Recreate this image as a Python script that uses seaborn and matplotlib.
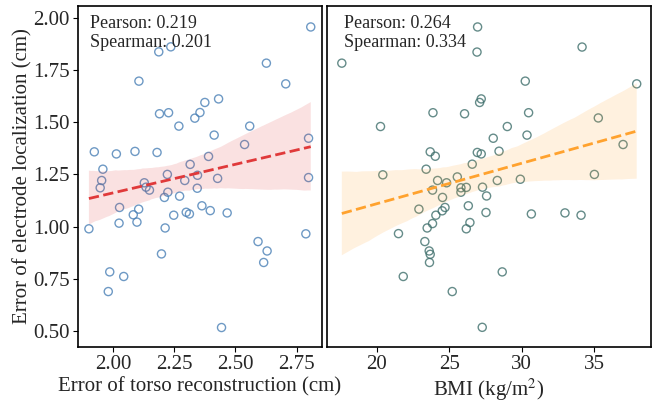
import matplotlib
matplotlib.use("Agg")
import matplotlib.pyplot as plt
import seaborn as sns
import numpy as np
import pandas as pd

# ---- data ----
torso_err = [2.807, 2.187, 2.236, 2.626, 2.106, 2.705, 2.431, 2.375, 2.190, 2.227,
             2.355, 2.334, 2.269, 2.558, 2.413, 2.798, 2.537, 1.924, 2.014, 2.090,
             2.180, 2.390, 2.315, 1.959, 2.222, 2.345, 2.427, 2.798, 1.954, 2.128,
             2.293, 1.948, 2.135, 2.149, 2.224, 2.344, 2.210, 2.272, 2.027, 2.083,
             2.105, 2.248, 2.299, 2.312, 2.363, 2.397, 2.466, 2.025, 2.098, 1.902,
             2.213, 2.787, 2.592, 2.629, 2.198, 2.615, 1.987, 2.044, 1.981, 2.443]
loc_err_torso = [1.955, 1.836, 1.860, 1.782, 1.696, 1.683, 1.611, 1.594, 1.540, 1.545,
                 1.546, 1.519, 1.481, 1.481, 1.438, 1.423, 1.393, 1.358, 1.348, 1.360,
                 1.355, 1.336, 1.298, 1.275, 1.250, 1.246, 1.231, 1.235, 1.221, 1.210,
                 1.221, 1.186, 1.189, 1.175, 1.165, 1.184, 1.140, 1.146, 1.092, 1.057,
                 1.084, 1.055, 1.069, 1.061, 1.100, 1.077, 1.066, 1.017, 1.022, 0.990,
                 0.994, 0.966, 0.929, 0.884, 0.870, 0.829, 0.784, 0.762, 0.690, 0.518]

bmi = [26.95, 26.91, 17.58, 34.16, 30.24, 37.93, 27.20, 27.09, 23.87, 26.05,
       30.47, 35.28, 20.25, 29.00, 30.36, 28.03, 36.99, 23.68, 24.03, 26.93,
       27.20, 28.43, 26.58, 23.40, 20.41, 25.55, 35.01, 28.31, 29.90, 24.19,
       24.81, 23.84, 25.80, 26.17, 25.80, 27.29, 24.53, 27.57, 22.90, 24.70,
       24.51, 24.07, 26.31, 27.53, 30.66, 32.98, 34.09, 26.42, 26.17, 23.84,
       23.47, 21.49, 23.31, 23.61, 23.68, 23.63, 28.65, 21.82, 25.20, 27.27]
loc_err_bmi = [1.955, 1.835, 1.782, 1.859, 1.696, 1.683, 1.611, 1.594, 1.545, 1.540,
               1.545, 1.520, 1.479, 1.479, 1.438, 1.423, 1.393, 1.358, 1.337, 1.355,
               1.348, 1.361, 1.299, 1.275, 1.248, 1.238, 1.250, 1.221, 1.227, 1.221,
               1.210, 1.175, 1.186, 1.188, 1.165, 1.189, 1.140, 1.147, 1.084, 1.092,
               1.076, 1.055, 1.100, 1.068, 1.061, 1.066, 1.055, 1.020, 0.990, 1.015,
               0.994, 0.967, 0.929, 0.884, 0.868, 0.829, 0.784, 0.762, 0.690, 0.519]

stats_left = ["Pearson: 0.219", "Spearman: 0.201"]
stats_right = ["Pearson: 0.264", "Spearman: 0.334"]
xticks_left = [2.00, 2.25, 2.50, 2.75]
xticks_right = [20, 25, 30, 35]
yticks = [0.50, 0.75, 1.00, 1.25, 1.50, 1.75, 2.00]

sns.set_theme(style="ticks")
plt.rcParams["font.family"] = ["Liberation Serif", "DejaVu Serif"]
plt.rcParams["mathtext.fontset"] = "stix"

df_l = pd.DataFrame({"x": torso_err, "y": loc_err_torso})
df_r = pd.DataFrame({"x": bmi, "y": loc_err_bmi})

fig, (ax1, ax2) = plt.subplots(1, 2, figsize=(6.6, 4.03), dpi=100, sharey=True,
                               gridspec_kw={"width_ratios": [244, 324]})
fig.subplots_adjust(left=0.118, right=0.986, top=0.985, bottom=0.139, wspace=0.018)

sns.regplot(data=df_l, x="x", y="y", ax=ax1, seed=0,
            scatter_kws=dict(s=34, facecolors="none", edgecolors="#4a80b6", linewidths=1.0),
            line_kws=dict(color="#e0393a", linestyle="--", linewidth=2.0),
            color="#e0393a")
sns.regplot(data=df_r, x="x", y="y", ax=ax2, seed=0,
            scatter_kws=dict(s=34, facecolors="none", edgecolors="#3f6f6c", linewidths=1.0),
            line_kws=dict(color="#ffa22e", linestyle="--", linewidth=2.0),
            color="#ffa22e")

# band colors/alpha
for ax, c in ((ax1, "#e0393a"), (ax2, "#ffa22e")):
    for coll in ax.collections[1:]:
        coll.set_facecolor(c)
        coll.set_alpha(0.15)
        coll.set_edgecolor("none")

ax1.set_xlim(1.857, 2.852)
ax2.set_xlim(16.55, 38.9)
ax1.set_ylim(0.425, 2.055)
ax1.set_xticks(xticks_left)
ax1.set_xticklabels([f"{t:.2f}" for t in xticks_left])
ax2.set_xticks(xticks_right)
ax1.set_yticks(yticks)
ax1.set_yticklabels([f"{t:.2f}" for t in yticks])

ax1.set_xlabel("Error of torso reconstruction (cm)", fontsize=15, labelpad=2)
ax2.set_xlabel(r"BMI (kg/m$^2$)", fontsize=15, labelpad=2)
ax1.set_ylabel("Error of electrode localization (cm)", fontsize=15, labelpad=0)
ax2.set_ylabel("")
ax2.tick_params(axis="y", left=False, labelleft=False)

for ax in (ax1, ax2):
    ax.tick_params(labelsize=15, length=3.5, width=0.8, color="black", pad=2.5)
    for sp in ax.spines.values():
        sp.set_visible(True)
        sp.set_color("black")
        sp.set_linewidth(1.2)

ax1.text(0.05, 0.975, stats_left[0] + "\n" + stats_left[1],
         transform=ax1.transAxes, va="top", ha="left", fontsize=13, linespacing=1.17)
ax2.text(0.052, 0.975, stats_right[0] + "\n" + stats_right[1],
         transform=ax2.transAxes, va="top", ha="left", fontsize=13, linespacing=1.17)

fig.savefig("out.png", dpi=100)
